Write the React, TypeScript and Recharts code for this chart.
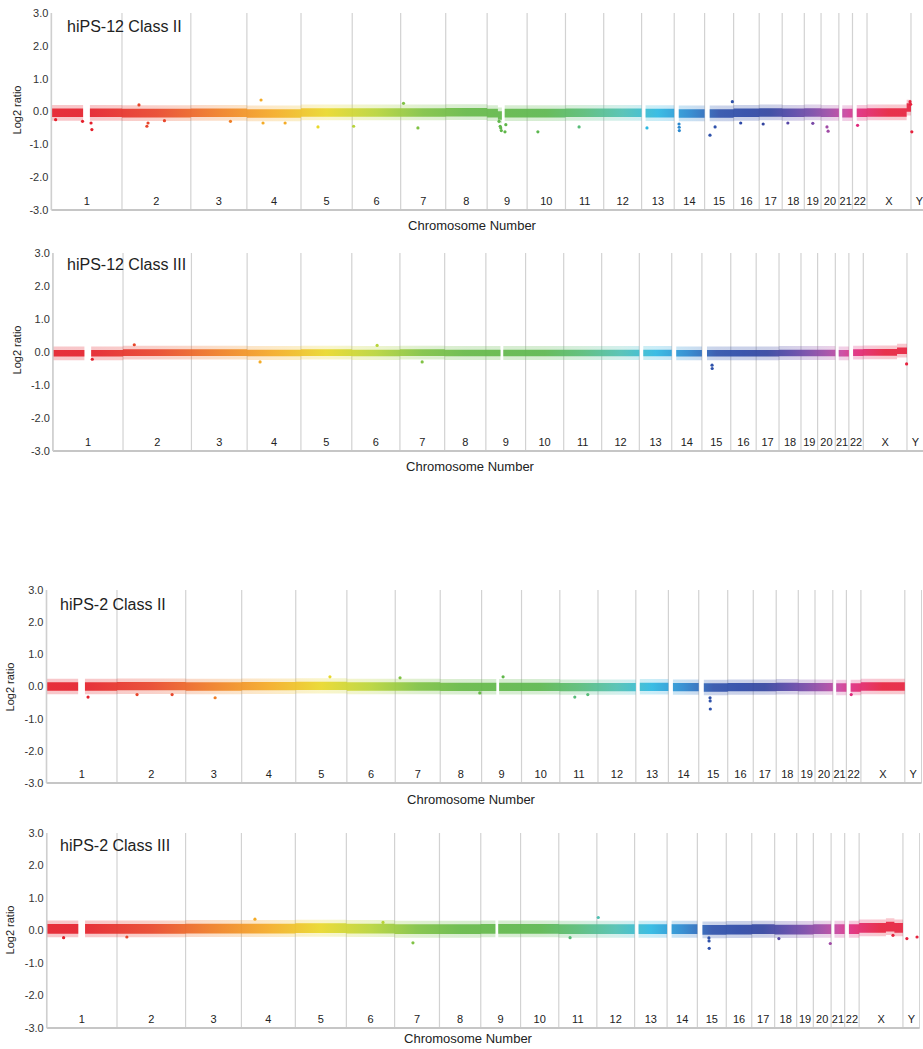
import React from "react";
import {
  ComposedChart,
  Area,
  Scatter,
  XAxis,
  YAxis,
  CartesianGrid,
} from "recharts";

const CHROMS = [
  "1", "2", "3", "4", "5", "6", "7", "8", "9", "10", "11", "12",
  "13", "14", "15", "16", "17", "18", "19", "20", "21", "22", "X", "Y",
];

// chromosome sizes, Mb
const CHROM_LEN = [
  249.3, 243.2, 198.0, 191.2, 180.9, 171.1, 159.1, 146.4, 141.2, 135.5, 135.0, 133.9,
  115.2, 107.3, 102.5, 90.4, 81.2, 78.1, 59.1, 63.0, 48.1, 51.3, 155.3, 59.4,
];

const CHROM_COLORS = [
  "#e41f2b", "#e8462b", "#ef7e25", "#f4ab26", "#e9d82a", "#b8d43a", "#80c244", "#66b947",
  "#60b74a", "#5cb74f", "#58bc78", "#4fc0b2", "#2cb8e2", "#2a88cf", "#2f52ab", "#2c48a6",
  "#33449f", "#5746a6", "#7a49a7", "#a04aa5", "#c9459f", "#e02a7c", "#e6223e", "#e6223e",
];

const Y_TICKS = [-3, -2, -1, 0, 1, 2, 3];

const TITLES = [
  "hiPS-12 Class II",
  "hiPS-12 Class III",
  "hiPS-2 Class II",
  "hiPS-2 Class III",
];

// stretches without probes: [chrom, from Mb, to Mb]
const GAPS: [string, number, number][] = [
  ["1", 112, 136],
  ["9", 52, 62],
  ["13", 0, 14],
  ["14", 0, 16],
  ["15", 0, 18],
  ["21", 0, 12],
  ["22", 0, 15],
  ["Y", 0, 59.4],
];

// centre of the dense band for each chromosome (log2 ratio)
const P1_MID = [
  -0.04, -0.05, -0.04, -0.06, -0.03, -0.03, -0.03, -0.02, -0.05, -0.05, -0.04, -0.04,
  -0.05, -0.06, -0.06, -0.04, -0.03, -0.04, -0.03, -0.04, -0.05, -0.04, -0.03, 0,
];
const P2_MID = [
  -0.04, -0.02, -0.02, -0.03, -0.02, -0.03, -0.02, -0.03, -0.03, -0.03, -0.03, -0.03,
  -0.03, -0.04, -0.04, -0.04, -0.04, -0.03, -0.03, -0.03, -0.04, -0.02, -0.01, 0,
];
const P3_MID = [
  0.0, 0.01, 0.0, 0.01, 0.02, 0.0, 0.0, -0.01, -0.01, -0.01, -0.02, -0.02,
  -0.01, -0.02, -0.03, -0.02, -0.02, -0.01, -0.02, -0.02, -0.03, -0.03, 0.0, 0,
];
const P4_MID = [
  0.05, 0.05, 0.06, 0.06, 0.07, 0.06, 0.04, 0.04, 0.05, 0.05, 0.04, 0.04,
  0.04, 0.04, 0.02, 0.03, 0.04, 0.03, 0.03, 0.04, 0.04, 0.04, 0.08, 0,
];

// half width of the dense band, per panel
const BAND_HALF = [0.13, 0.1, 0.13, 0.15];

// local shifts of the band: [chrom, from Mb, to Mb, centre]
const P1_SHIFTS: [string, number, number, number][] = [
  ["9", 38, 52, -0.12],
  ["X", 140, 155.3, 0.12],
];
const P2_SHIFTS: [string, number, number, number][] = [["X", 120, 155.3, 0.04]];
const P3_SHIFTS: [string, number, number, number][] = [];
const P4_SHIFTS: [string, number, number, number][] = [["X", 95, 125, 0.12]];

// outlying probes: [chrom, Mb, log2 ratio]
const P1_OUTLIERS: [string, number, number][] = [
  ["1", 15, -0.25], ["1", 110, -0.3], ["1", 140, -0.35], ["1", 143, -0.55],
  ["2", 60, 0.2], ["2", 88, -0.45], ["2", 92, -0.35], ["2", 150, -0.28],
  ["3", 140, -0.3],
  ["4", 50, 0.35], ["4", 57, -0.35], ["4", 135, -0.35],
  ["5", 60, -0.47], ["6", 5, -0.45], ["7", 10, 0.25], ["7", 61, -0.5],
  ["9", 42, -0.3], ["9", 46, -0.45], ["9", 48, -0.5], ["9", 50, -0.58],
  ["9", 63, -0.62], ["9", 66, -0.4],
  ["10", 38, -0.62], ["11", 48, -0.47], ["13", 19, -0.5],
  ["14", 17, -0.38], ["14", 17.5, -0.48], ["14", 18, -0.58],
  ["15", 19, -0.72], ["15", 37, -0.47], ["15", 98, 0.3],
  ["16", 25, -0.35], ["17", 14, -0.38], ["18", 20, -0.35], ["19", 30, -0.36],
  ["20", 21, -0.47], ["20", 25, -0.6], ["22", 18, -0.42],
  ["X", 152, 0.3], ["X", 154, 0.22], ["Y", 3, -0.62],
];
const P2_OUTLIERS: [string, number, number][] = [
  ["1", 140, -0.22], ["2", 40, 0.22], ["4", 46, -0.3], ["6", 90, 0.2],
  ["7", 79, -0.3], ["15", 36, -0.4], ["15", 36.5, -0.5], ["X", 154, -0.36],
];
const P3_OUTLIERS: [string, number, number][] = [
  ["1", 147, -0.33], ["2", 71, -0.25], ["2", 195, -0.25], ["3", 104, -0.35],
  ["5", 121, 0.3], ["7", 17, 0.27], ["8", 140, -0.2], ["9", 76, 0.3],
  ["11", 53, -0.33], ["11", 99, -0.25],
  ["15", 40, -0.35], ["15", 40.5, -0.45], ["15", 41, -0.7], ["22", 17, -0.25],
];
const P4_OUTLIERS: [string, number, number][] = [
  ["1", 60, -0.22], ["2", 35, -0.2], ["4", 48, 0.35], ["6", 130, 0.25],
  ["7", 65, -0.38], ["11", 40, -0.22], ["12", 5, 0.4],
  ["15", 41, -0.23], ["15", 41.5, -0.32], ["15", 42, -0.55],
  ["18", 15, -0.25], ["20", 60, -0.4], ["X", 120, -0.15], ["Y", 14, -0.25], ["Y", 50, -0.2],
];

const MIDS_LIST = [P1_MID, P2_MID, P3_MID, P4_MID];
const SHIFTS_LIST = [P1_SHIFTS, P2_SHIFTS, P3_SHIFTS, P4_SHIFTS];
const OUTLIERS_LIST = [P1_OUTLIERS, P2_OUTLIERS, P3_OUTLIERS, P4_OUTLIERS];

const STARTS: number[] = [];
let acc = 0;
CHROM_LEN.forEach((l) => {
  STARTS.push(acc);
  acc += l;
});
const GENOME = acc;
const CENTRES = CHROMS.map((_, i) => STARTS[i] + CHROM_LEN[i] / 2);
const HALO = 0.11;

function buildBand(mid: number[], half: number, shifts: [string, number, number, number][]) {
  const rows: any[] = [];
  CHROMS.forEach((c, i) => {
    const gaps = GAPS.filter((g) => g[0] === c);
    const sh = shifts.filter((s) => s[0] === c);
    const cuts = new Set<number>([0, CHROM_LEN[i]]);
    gaps.forEach((g) => { cuts.add(g[1]); cuts.add(g[2]); });
    sh.forEach((s) => { cuts.add(s[1]); cuts.add(s[2]); });
    const sorted = [...cuts].sort((a, b) => a - b);
    for (let k = 0; k < sorted.length - 1; k++) {
      const a = sorted[k];
      const b = sorted[k + 1];
      const m = (a + b) / 2;
      if (gaps.some((g) => m > g[1] && m < g[2])) {
        rows.push({ x: STARTS[i] + m, core: null, halo: null });
        continue;
      }
      const s = sh.find((q) => m > q[1] && m < q[2]);
      const c0 = s ? s[3] : mid[i];
      const core = [c0 - half, c0 + half];
      const halo = [c0 - half - HALO, c0 + half + HALO];
      rows.push({ x: STARTS[i] + a, core, halo });
      rows.push({ x: STARTS[i] + b, core, halo });
    }
  });
  return rows;
}

// where each panel sits on the page
const LAYOUT = [
  { top3: 13, bot3: 210, left: 51.4, right: 927.8, titleX: 67, titleY: 27, logX: 17, logY: 110, numX: 472, numY: 225 },
  { top3: 253, bot3: 451, left: 52.9, right: 923.7, titleX: 67, titleY: 265, logX: 17, logY: 350, numX: 470, numY: 466 },
  { top3: 590, bot3: 783, left: 46.5, right: 921.6, titleX: 60, titleY: 605, logX: 10, logY: 687, numX: 471, numY: 799 },
  { top3: 833, bot3: 1028, left: 46.7, right: 919.7, titleX: 60, titleY: 846, logX: 10, logY: 930, numX: 468, numY: 1038 },
];

function ChromTick(props: any) {
  const { x, y, payload } = props;
  const idx = CENTRES.indexOf(payload.value);
  return (
    <text x={x} y={y - 5} textAnchor="middle" fontSize={11} fill="#222">
      {CHROMS[idx]}
    </text>
  );
}

function Panel({ idx }: { idx: number }) {
  const L = LAYOUT[idx];
  const data = buildBand(MIDS_LIST[idx], BAND_HALF[idx], SHIFTS_LIST[idx]);
  const dots = OUTLIERS_LIST[idx].map(([c, mb, v]) => {
    const i = CHROMS.indexOf(c);
    return { x: STARTS[i] + mb, y: v, color: CHROM_COLORS[i] };
  });
  const height = L.bot3 - L.top3 + 19;
  const gid = `band-grad-${idx}`;

  return (
    <>
      <div style={{ position: "absolute", left: 0, top: L.top3 - 10 }}>
        <ComposedChart
          width={L.right}
          height={height}
          data={data}
          margin={{ top: 10, right: 0, bottom: 8, left: 0 }}
        >
          <defs>
            <linearGradient id={gid} gradientUnits="userSpaceOnUse" x1={L.left} x2={L.right} y1={0} y2={0}>
              {CHROM_COLORS.map((col, i) => (
                <stop key={i} offset={CENTRES[i] / GENOME} stopColor={col} />
              ))}
            </linearGradient>
          </defs>
          <CartesianGrid
            xAxisId="bounds"
            horizontal={false}
            stroke="#d2d2d2"
            strokeWidth={1.2}
          />
          <XAxis
            xAxisId="bounds"
            type="number"
            dataKey="x"
            domain={[0, GENOME]}
            allowDataOverflow
            ticks={STARTS.slice(1)}
            interval={0}
            hide
          />
          <XAxis
            dataKey="x"
            type="number"
            domain={[0, GENOME]}
            allowDataOverflow
            ticks={CENTRES}
            interval={0}
            height={1}
            tickSize={0}
            tickMargin={0}
            tickLine={false}
            tick={<ChromTick />}
            axisLine={{ stroke: "#c6c6c6", strokeWidth: 2 }}
          />
          <YAxis
            type="number"
            domain={[-3, 3]}
            ticks={Y_TICKS}
            interval={0}
            width={L.left}
            tickSize={0}
            tickMargin={3}
            tickLine={false}
            tickFormatter={(v: number) => v.toFixed(1)}
            tick={{ fontSize: 11, fill: "#333" }}
            axisLine={{ stroke: "#cfcfcf", strokeWidth: 1.5 }}
          />
          <Area
            type="linear"
            dataKey="halo"
            stroke="none"
            fill={`url(#${gid})`}
            fillOpacity={0.25}
            connectNulls={false}
            dot={false}
            activeDot={false}
            isAnimationActive={false}
          />
          <Area
            type="linear"
            dataKey="core"
            stroke="none"
            fill={`url(#${gid})`}
            fillOpacity={0.9}
            connectNulls={false}
            dot={false}
            activeDot={false}
            isAnimationActive={false}
          />
          <Scatter
            data={dots}
            dataKey="y"
            isAnimationActive={false}
            shape={(p: any) => <circle cx={p.cx} cy={p.cy} r={1.6} fill={p.payload.color} />}
          />
        </ComposedChart>
      </div>
      <div
        style={{
          position: "absolute",
          left: L.titleX,
          top: L.titleY - 9,
          fontSize: 16,
          lineHeight: "18px",
          color: "#222",
          whiteSpace: "nowrap",
        }}
      >
        {TITLES[idx]}
      </div>
      <div
        style={{
          position: "absolute",
          left: L.logX,
          top: L.logY,
          fontSize: 11,
          color: "#222",
          whiteSpace: "nowrap",
          transform: "translate(-50%, -50%) rotate(-90deg)",
        }}
      >
        Log2 ratio
      </div>
      <div
        style={{
          position: "absolute",
          left: L.numX,
          top: L.numY,
          fontSize: 13,
          color: "#222",
          whiteSpace: "nowrap",
          transform: "translate(-50%, -50%)",
        }}
      >
        Chromosome Number
      </div>
    </>
  );
}

export default function App() {
  return (
    <div
      style={{
        position: "absolute",
        left: 0,
        top: 0,
        width: 923,
        height: 1049,
        overflow: "hidden",
        background: "#fff",
        fontFamily: "'Liberation Sans', Arial, Helvetica, sans-serif",
      }}
    >
      {[0, 1, 2, 3].map((i) => (
        <Panel key={i} idx={i} />
      ))}
    </div>
  );
}
